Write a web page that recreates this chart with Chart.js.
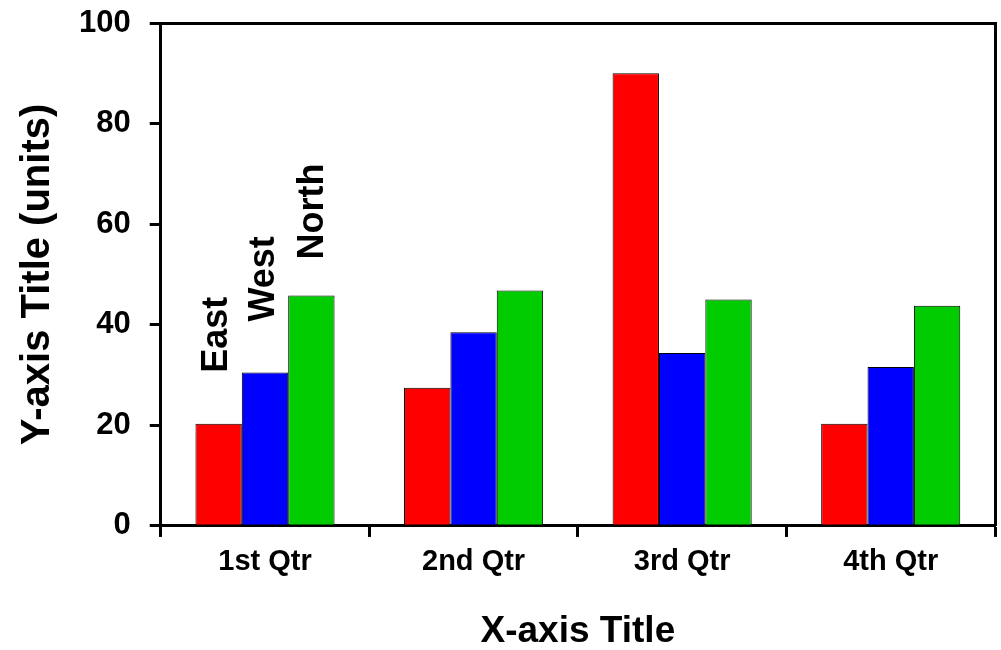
<!DOCTYPE html>
<html>
<head>
<meta charset="utf-8">
<script src="https://cdn.jsdelivr.net/npm/chart.js@4/dist/chart.umd.min.js"></script>
<style>
  html, body { margin: 0; padding: 0; background: #fff; }
  #wrap { width: 1001px; height: 650px; }
</style>
</head>
<body>
<div id="wrap"><canvas id="myChart"></canvas></div>
<script>
const quarters = ["1st Qtr", "2nd Qtr", "3rd Qtr", "4th Qtr"];
const seriesNames = ["East", "West", "North"];
const eastValues = [20.3, 27.5, 90.0, 20.3];
const westValues = [30.5, 38.5, 34.4, 31.6];
const northValues = [45.8, 46.8, 45.0, 43.8];
const yTicks = [0, 20, 40, 60, 80, 100];

const colors = ["#ff0000", "#0000ff", "#00cc00"];
const fontFamily = "'Liberation Sans', Arial, sans-serif";

// rotated series names drawn over the first group of bars
const labelGap = [51, 51, 36];
const labelShift = [8, 9, 12];

const seriesLabels = {
    id: "seriesLabels",
    afterDatasetsDraw(chart) {
        const ctx = chart.ctx;
        ctx.save();
        ctx.font = "bold 36px " + fontFamily;
        ctx.fillStyle = "#000";
        ctx.textAlign = "left";
        ctx.textBaseline = "alphabetic";
        seriesNames.forEach((name, i) => {
            const bar = chart.getDatasetMeta(i).data[0];
            ctx.save();
            ctx.translate(bar.x + labelShift[i], bar.y - labelGap[i]);
            ctx.rotate(-Math.PI / 2);
            ctx.fillText(name, 0, 0);
            ctx.restore();
        });
        ctx.restore();
    }
};

const allValues = [eastValues, westValues, northValues];

new Chart(document.getElementById("myChart"), {
    type: "bar",
    data: {
        labels: quarters,
        datasets: seriesNames.map((name, i) => ({
            label: name,
            data: allValues[i],
            backgroundColor: colors[i],
            borderColor: "#000",
            borderWidth: 1,
            borderSkipped: false,
            categoryPercentage: 0.667,
            barPercentage: 1.0
        }))
    },
    options: {
        responsive: true,
        maintainAspectRatio: false,
        animation: false,
        layout: {
            padding: { left: 0, right: 6, top: 23, bottom: 0 }
        },
        plugins: {
            legend: { display: false },
            tooltip: { enabled: false }
        },
        scales: {
            x: {
                grid: {
                    offset: true,
                    drawOnChartArea: false,
                    tickLength: 11,
                    tickWidth: 3,
                    tickColor: "#000"
                },
                border: { display: true, color: "#000", width: 3 },
                ticks: {
                    color: "#000",
                    padding: 4,
                    maxRotation: 0,
                    font: { family: fontFamily, size: 29, weight: "bold", lineHeight: 1.45 }
                },
                title: {
                    display: true,
                    text: "X-axis Title",
                    color: "#000",
                    padding: { top: 26, bottom: 0 },
                    font: { family: fontFamily, size: 37, weight: "bold", lineHeight: 1 }
                }
            },
            x2: {
                position: "top",
                labels: quarters,
                grid: { display: false, drawTicks: false },
                ticks: { display: false },
                border: { display: true, color: "#000", width: 3 }
            },
            y: {
                min: 0,
                max: 100,
                afterBuildTicks: axis => {
                    axis.ticks = yTicks.map(v => ({ value: v }));
                },
                grid: {
                    drawOnChartArea: false,
                    tickLength: 11,
                    tickWidth: 3,
                    tickColor: "#000"
                },
                border: { display: true, color: "#000", width: 3 },
                ticks: {
                    color: "#000",
                    padding: 19,
                    font: { family: fontFamily, size: 31, weight: "bold", lineHeight: 0.1 }
                },
                title: {
                    display: true,
                    text: "Y-axis Title (units)",
                    color: "#000",
                    padding: { top: 18, bottom: 2 },
                    font: { family: fontFamily, size: 40, weight: "bold", lineHeight: 1 }
                }
            },
            y2: {
                position: "right",
                min: 0,
                max: 100,
                grid: { display: false, drawTicks: false },
                ticks: { display: false },
                border: { display: true, color: "#000", width: 3 }
            }
        }
    },
    plugins: [seriesLabels]
});
</script>
</body>
</html>
